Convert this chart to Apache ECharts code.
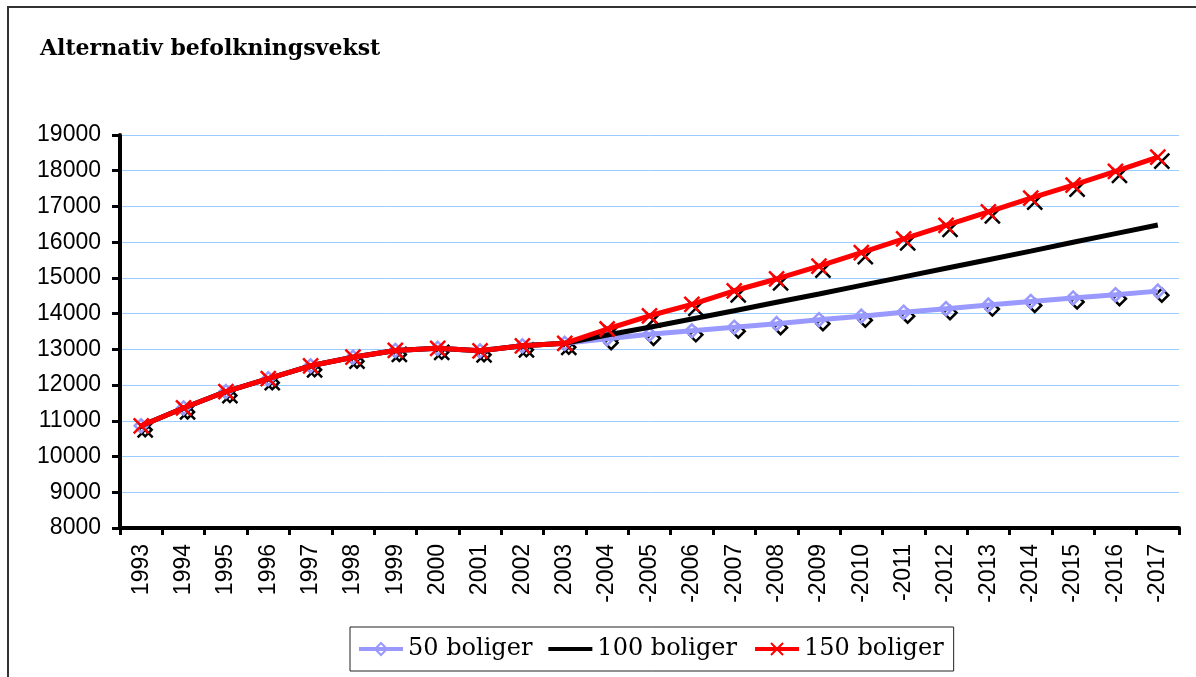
<!DOCTYPE html>
<html>
<head>
<meta charset="utf-8">
<script src="https://cdn.jsdelivr.net/npm/echarts@6/dist/echarts.min.js"></script>
<style>
html,body{margin:0;padding:0;background:#fff;}
#chart{width:1196px;height:677px;}
</style>
</head>
<body>
<div id="chart"></div>
<script>
const categories = ['1993','1994','1995','1996','1997','1998','1999','2000','2001','2002','2003',
  '-2004','-2005','-2006','-2007','-2008','-2009','-2010','-2011','-2012','-2013','-2014','-2015','-2016','-2017'];
const history = [10860, 11360, 11820, 12180, 12540, 12780, 12970, 13030, 12960, 13100, 13170];
const bolig50 = history.concat([13300, 13420, 13520, 13620, 13720, 13830, 13930, 14040, 14140, 14240, 14340, 14440, 14530, 14630]);
const bolig100 = history.concat([13400, 13620, 13850, 14080, 14320, 14550, 14790, 15030, 15270, 15510, 15750, 16000, 16240, 16480]);
const bolig150 = history.concat([13570, 13940, 14260, 14640, 14970, 15330, 15710, 16090, 16470, 16850, 17230, 17600, 17980, 18380]);
const yTicks = [8000, 19000, 1000];

const XPATH = 'path://M0,0L10,10M10,0L0,10';
const LINE_ICON = 'path://M0,0M0,5.5H44V9.5H0ZM44,15';
const chart = echarts.init(document.getElementById('chart'));
const shadow = (data, symbol, size) => ({
  type: 'line', data: data, symbol: symbol, symbolSize: size, symbolOffset: [4, 4],
  showAllSymbol: true, silent: true, z: 1,
  lineStyle: { width: 0, opacity: 0 },
  itemStyle: { color: 'transparent', borderColor: '#000', borderWidth: 2.5 },
  legendHoverLink: false, animation: false
});
chart.setOption({
  animation: false,
  backgroundColor: '#fff',
  title: {
    text: 'Alternativ befolkningsvekst', left: 35, top: 33,
    textStyle: { fontFamily: 'DejaVu Serif', fontWeight: 'bold', fontSize: 22, color: '#000' }
  },
  graphic: [{
    type: 'rect', shape: { x: 8, y: 7, width: 1300, height: 800 },
    style: { fill: 'none', stroke: '#333', lineWidth: 2 }, silent: true
  }],
  legend: {
    left: 350, top: 627,
    padding: [10, 10, 10, 7],
    borderColor: '#222', borderWidth: 1,
    itemWidth: 44, itemHeight: 15, itemGap: 16,
    lineStyle: { width: 4 },
    textStyle: { fontFamily: 'DejaVu Serif', fontSize: 24, color: '#000' },
    data: ['50 boliger', { name: '100 boliger', icon: LINE_ICON }, '150 boliger']
  },
  grid: { left: 120, right: 17, top: 135, bottom: 149 },
  xAxis: {
    type: 'category', data: categories, boundaryGap: true,
    axisLine: { lineStyle: { color: '#000', width: 4 } },
    axisTick: { show: true, length: 7, lineStyle: { color: '#000', width: 3 } },
    axisLabel: { rotate: 90, interval: 0, fontFamily: 'Liberation Sans', fontSize: 23, color: '#000', margin: 16 },
    splitLine: { show: false }
  },
  yAxis: {
    type: 'value', min: yTicks[0], max: yTicks[1], interval: yTicks[2],
    axisLine: { show: true, lineStyle: { color: '#000', width: 4 } },
    axisTick: { show: true, length: 8, lineStyle: { color: '#000', width: 3 } },
    axisLabel: { fontFamily: 'Liberation Sans', fontSize: 23, color: '#000', margin: 19, formatter: v => String(v) },
    splitLine: { lineStyle: { color: '#99CCFF', width: 1 } }
  },
  series: [
    shadow(bolig50, 'diamond', 13),
    shadow(bolig150, XPATH, 15),
    {
      name: '50 boliger', type: 'line', data: bolig50, z: 3,
      symbol: 'diamond', symbolSize: 13, showAllSymbol: true,
      lineStyle: { color: '#9999FF', width: 5 },
      itemStyle: { color: 'transparent', borderColor: '#9999FF', borderWidth: 2.5 }
    },
    {
      name: '100 boliger', type: 'line', data: bolig100, z: 4,
      symbol: 'none', showSymbol: false,
      lineStyle: { color: '#000', width: 5 },
      itemStyle: { color: '#000' }
    },
    {
      name: '150 boliger', type: 'line', data: bolig150, z: 5,
      symbol: XPATH, symbolSize: 15, showAllSymbol: true,
      lineStyle: { color: '#FF0000', width: 5 },
      itemStyle: { color: 'transparent', borderColor: '#FF0000', borderWidth: 2.5 }
    }
  ]
});
</script>
</body>
</html>
